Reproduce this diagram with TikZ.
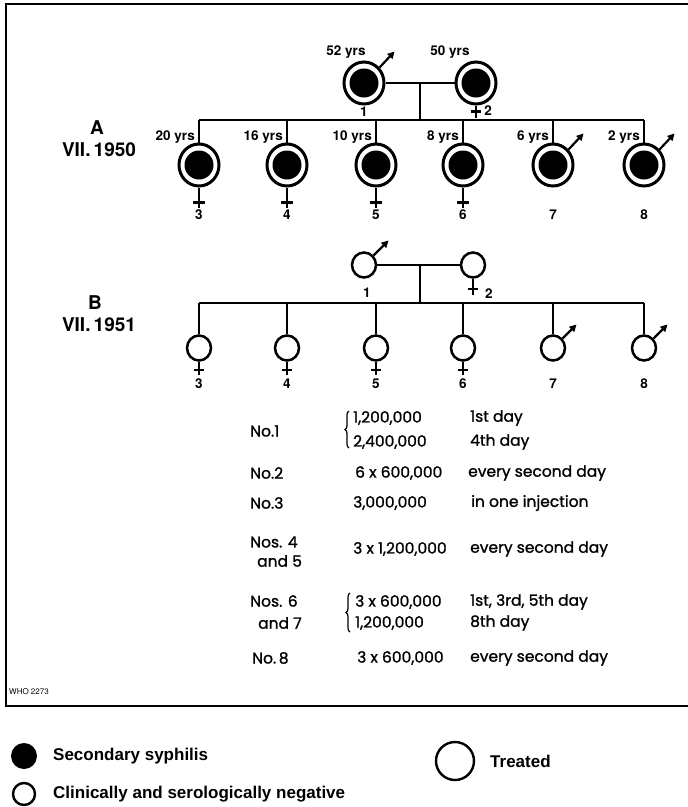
\documentclass[tikz,border=0pt]{standalone}
\usepackage{fontspec}
\setmainfont{Poppins}
\newfontfamily\tabfont[FakeBold=1.2]{Poppins}
\newfontfamily\labfont{TeX Gyre Heros}
\newfontfamily\legfont{Liberation Sans}
\usetikzlibrary{shapes.geometric,arrows.meta,calc,decorations.pathreplacing}
\tikzset{
  ring/.style={ellipse, draw, line width=3pt, minimum width=40pt, minimum height=42pt, inner sep=0pt},
  disk/.style={circle, fill=black, draw=none, minimum size=29pt, inner sep=0pt},
  open/.style={ellipse, draw, line width=2.5pt, minimum width=24pt, minimum height=25pt, inner sep=0pt},
  conn/.style={line width=2.5pt},
  symb/.style={line width=2.2pt},
  malearrow/.style={line width=2.2pt, -{Triangle[length=7pt,width=7pt]}},
  age/.style={font=\labfont\bfseries\fontsize{13.5}{14}\selectfont, inner sep=0pt},
  num/.style={font=\labfont\bfseries\fontsize{13.5}{14}\selectfont, inner sep=0pt},
  gen/.style={font=\labfont\bfseries\fontsize{19}{20}\selectfont, inner sep=0pt},
  tab/.style={font=\tabfont\fontsize{15.5}{16}\selectfont, inner sep=0pt, anchor=west},
  leg/.style={font=\legfont\bfseries\fontsize{17}{18}\selectfont, inner sep=0pt, anchor=west},
}
\begin{document}
\begin{tikzpicture}[x=1pt,y=-1pt]
\useasboundingbox (0,0) rectangle (688,807);
% frame (right side cut off)
\draw[line width=1.8pt] (692,4) -- (6,4) -- (6,706) -- (692,706);

% ---------------- Generation A ----------------
\node[gen] (gA) at (97,128) {A};
\node[gen] (dA) at (99,150) {VII.\,1950};

\node[ring] (a1) at (364,83) {};
\node[disk] (a1d) at (a1.center) {};
\node[ring] (a2) at (476,83) {};
\node[disk] (a2d) at (a2.center) {};
\node[age] (ag1) at (346,52) {52 yrs};
\node[age] (ag2) at (450,52) {50 yrs};
\draw[malearrow] (a1.45) -- ++(15,-16);
\node[num] (n1) at (364,112) {1};
\draw[symb] (a2.south) -- ++(0,12);
\draw[symb] ($(a2.south)+(-5,6)$) -- ++(10,0);
\node[num] (n2) at (488,111) {2};

\draw[conn] (a1.east) -- (a2.west);
\coordinate (mA) at ($(a1.east)!0.5!(a2.west)$);
\coordinate (sA) at (420,120);
\draw[conn] (mA) -- (sA);
\coordinate (sAl) at (199,120);
\coordinate (sAr) at (644,120);
\draw[conn] (sAl) -- (sAr);

\foreach \n/\x/\a in {3/199/20 yrs,4/287/16 yrs,5/376/10 yrs,6/463/8 yrs,7/553/6 yrs,8/644/2 yrs}{
  \node[ring] (c\n) at (\x,165) {};
  \node[disk] (c\n d) at (c\n.center) {};
  \draw[conn] (\x,120) -- (c\n.north);
  \node[age, anchor=east] (ca\n) at (\x-4,137) {\a};
  \node[num] (cn\n) at (\x,215) {\n};
}
\foreach \n in {3,4,5,6}{
  \draw[symb] (c\n.south) -- ++(0,20);
  \draw[symb] ($(c\n.south)+(-6,15)$) -- ++(12,0);
}
\foreach \n in {7,8}{
  \draw[malearrow] (c\n.45) -- ++(15,-16);
}

% ---------------- Generation B ----------------
\node[gen] (gB) at (95,303) {B};
\node[gen] (dB) at (99,325) {VII.\,1951};

\node[open] (b1) at (364,265) {};
\node[open] (b2) at (473,265) {};
\draw[malearrow] (b1.45) -- ++(15,-15);
\draw[symb] (b2.south) -- ++(0,16);
\draw[symb] ($(b2.south)+(-5,10)$) -- ++(10,0);
\node[num] (m1) at (367,293) {1};
\node[num] (m2) at (489,294) {2};

\draw[conn] (b1.east) -- (b2.west);
\coordinate (mB) at (420,265);
\coordinate (sB) at (420,303);
\draw[conn] (mB) -- (sB);
\coordinate (sBl) at (199,303);
\coordinate (sBr) at (644,303);
\draw[conn] (sBl) -- (sBr);

\foreach \n/\x in {3/199,4/287,5/376,6/463,7/553,8/644}{
  \node[open] (d\n) at (\x,348) {};
  \draw[conn] (\x,303) -- (d\n.north);
  \node[num] (dn\n) at (\x,384) {\n};
}
\foreach \n in {3,4,5,6}{
  \draw[symb] (d\n.south) -- ++(0,13);
  \draw[symb] ($(d\n.south)+(-5,8)$) -- ++(10,0);
}
\foreach \n in {7,8}{
  \draw[malearrow] (d\n.45) -- ++(14,-14);
}

% ---------------- Table ----------------
\node[tab] (t1) at (250,431) {No.1};
\draw[line width=1.2pt, decorate, decoration={brace, amplitude=4pt}] (349,448) -- (349,411);
\node[tab] (t1a) at (353,418) {1,200,000};
\node[tab] (t1b) at (353,442) {2,400,000};
\node[tab] (t1c) at (470,418) {1st day};
\node[tab] (t1d) at (470,442) {4th day};

\node[tab] (t2) at (250,473) {No.2};
\node[tab] (t2a) at (355,473) {6 x 600,000};
\node[tab] (t2b) at (468,473) {every second day};

\node[tab] (t3) at (250,503) {No.3};
\node[tab] (t3a) at (353,503) {3,000,000};
\node[tab] (t3b) at (471,503) {in one injection};

\node[tab] (t4) at (250,542) {Nos. 4};
\node[tab] (t4b) at (257,561) {and 5};
\node[tab] (t4a) at (353,549) {3 x 1,200,000};
\node[tab] (t4c) at (470,549) {every second day};

\node[tab] (t6) at (250,601) {Nos. 6};
\node[tab] (t6b) at (258,623) {and 7};
\draw[line width=1.2pt, decorate, decoration={brace, amplitude=4pt}] (350,632) -- (350,593);
\node[tab] (t6a) at (355,602) {3 x 600,000};
\node[tab] (t6c) at (355,623) {1,200,000};
\node[tab] (t6d) at (470,602) {1st, 3rd, 5th day};
\node[tab] (t6e) at (470,623) {8th day};

\node[tab] (t8) at (252,658) {No.\,8};
\node[tab] (t8a) at (357,658) {3 x 600,000};
\node[tab] (t8b) at (470,658) {every second day};

\node[font=\labfont\fontsize{8}{9}\selectfont, anchor=west, inner sep=0pt] (who) at (9,692) {WHO 2273};

% ---------------- Legend ----------------
\node[circle, fill=black, minimum size=26pt, inner sep=0pt] (l1) at (24,756) {};
\node[leg] (l1t) at (53,756) {Secondary syphilis};
\node[circle, draw, line width=2.4pt, minimum size=22pt, inner sep=0pt] (l2) at (24,794) {};
\node[leg] (l2t) at (53,794) {Clinically and serologically negative};
\node[circle, draw, line width=2.4pt, minimum size=38pt, inner sep=0pt] (l3) at (455,761) {};
\node[leg] (l3t) at (490,761) {Treated};
\end{tikzpicture}
\end{document}
